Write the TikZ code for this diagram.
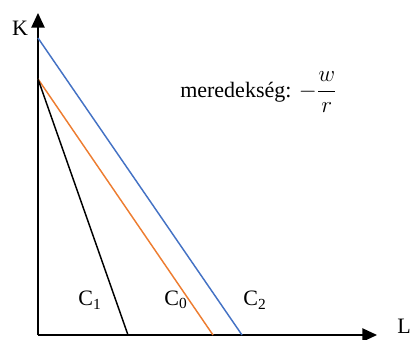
\documentclass[tikz,border=0pt]{standalone}
\usepackage{fontspec}
\setmainfont{Liberation Serif}
\definecolor{IsoBlue}{HTML}{4472C4}
\definecolor{IsoOrange}{HTML}{ED7D31}
\usetikzlibrary{arrows.meta, positioning}

\begin{document}
\begin{tikzpicture}[
      x=0.75pt, y=-0.75pt,
      every node/.style={font=\fontsize{16.5}{20}\selectfont},
      axis/.style={-{Triangle[length=11pt, width=10pt]}, line width=1.1pt},
      iso/.style={line width=1.1pt}
   ]
      \useasboundingbox (0,0) rectangle (412,340);
      \coordinate (O) at (38,335);
      \coordinate (Kend) at (38,13);
      \coordinate (Lend) at (377,335);
      \draw[axis] (O) -- (Kend);
      \draw[axis] (O) -- (Lend);
      \node (K) at (20,28) {K};
      \node (L) at (404,326) {L};
      % isocost lines
      \coordinate (k2) at (38,38);
      \coordinate (k0) at (38,79);
      \coordinate (l1) at (128,335);
      \coordinate (l0) at (213,335);
      \coordinate (l2) at (242,335);
      \draw[iso, IsoBlue] (k2) -- (l2);
      \draw[iso, IsoOrange] (k0) -- (l0);
      \draw[iso, black] (k0) -- (l1);
      \node (c1) at (90,300) {C\textsubscript{1}};
      \node (c0) at (176,300) {C\textsubscript{0}};
      \node (c2) at (255,300) {C\textsubscript{2}};
      \node (slope) [anchor=base west, inner sep=0pt] at (180,97) {meredekség: $-\displaystyle\frac{w}{r}$};
   \end{tikzpicture}
\end{document}
